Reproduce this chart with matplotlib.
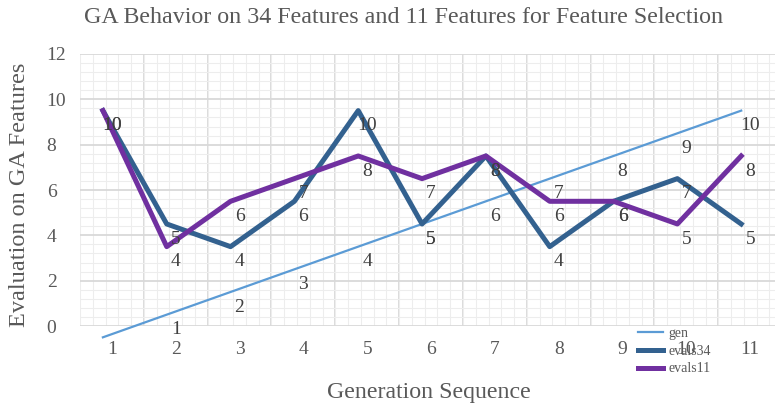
import matplotlib
matplotlib.use("Agg")
import matplotlib.pyplot as plt
import matplotlib.transforms as mtransforms
from matplotlib.ticker import MultipleLocator

# data
generation = [1, 2, 3, 4, 5, 6, 7, 8, 9, 10, 11]
gen = [0, 1, 2, 3, 4, 5, 6, 7, 8, 9, 10]
evals34 = [10, 5, 4, 6, 10, 5, 8, 4, 6, 7, 5]
evals11 = [10, 4, 6, 7, 8, 7, 8, 6, 6, 5, 8]

plt.rcParams['font.family'] = ['Liberation Serif', 'DejaVu Serif']

fig = plt.figure(figsize=(7.75, 4.05), dpi=100)
ax = fig.add_axes([0.1032, 0.195, 0.906, 0.6717])

ax.set_xlim(0.5, 11.5)
ax.set_ylim(0, 12)

# gridlines (major between categories, minor fine grid)
ax.yaxis.set_major_locator(MultipleLocator(2))
ax.yaxis.set_minor_locator(MultipleLocator(0.4))
ax.xaxis.set_minor_locator(MultipleLocator(0.2, offset=0.5))
ax.set_xticks(generation)
ax.grid(which='minor', color='#ededed', lw=0.8)
ax.grid(which='major', axis='y', color='#d9d9d9', lw=1.3)
for b in range(len(generation) + 1):
    ax.axvline(b + 0.5, color='#d9d9d9', lw=1.3, zorder=0.5)
ax.set_axisbelow(True)
for s in ax.spines.values():
    s.set_visible(False)
ax.tick_params(which='both', length=0)
ax.tick_params(axis='x', pad=11, labelsize=14, labelcolor='#595959')
ax.tick_params(axis='y', pad=24, labelsize=14, labelcolor='#595959')
for lab in ax.get_yticklabels():
    lab.set_ha('left')

# the lines in the original are drawn slightly shifted from their labels
shift = mtransforms.offset_copy(ax.transData, fig=fig, x=-9, y=-11.3, units='dots')

ax.plot(generation, gen, color='#5b9bd5', lw=1.6, label='gen',
        transform=shift, clip_on=False)
ax.plot(generation, evals34, color='#33618f', lw=3.6, label='evals34',
        transform=shift, clip_on=False)
ax.plot(generation, evals11, color='#7030a0', lw=3.6, label='evals11',
        transform=shift, clip_on=False)

for series in [gen, evals34, evals11]:
    for x, v in zip(generation, series):
        if v == 0:
            continue  # this one falls under the axis in the original, not shown
        ax.annotate(str(v), (x, v), xytext=(0, -19), textcoords='offset points',
                    ha='center', va='center', fontsize=14, color='#404040',
                    annotation_clip=False)

fig.text(0.521, 0.956, 'GA Behavior on 34 Features and 11 Features for Feature Selection',
         fontsize=17.3, color='#595959', ha='center', va='center')
fig.text(0.5535, 0.032, 'Generation Sequence', fontsize=17.2,
         color='#595959', ha='center', va='center')
fig.text(0.0258, 0.518, 'Evaluation on GA Features', fontsize=17.5,
         color='#595959', ha='center', va='center', rotation=90)

ax.legend(loc='upper left', bbox_to_anchor=(0.816, 0.207),
          bbox_transform=fig.transFigure, borderaxespad=0, frameon=False,
          fontsize=10, labelcolor='#595959', handlelength=1.8,
          handletextpad=0.4, labelspacing=0.35)

fig.savefig('out.png', dpi=100)
